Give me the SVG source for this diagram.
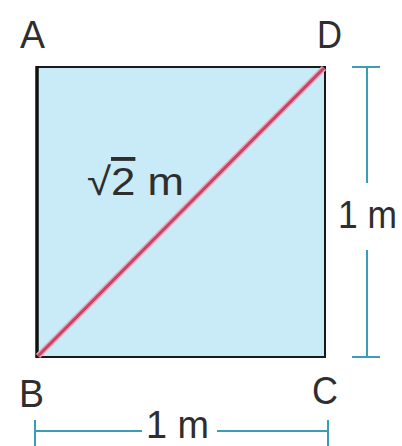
<svg xmlns="http://www.w3.org/2000/svg" width="402" height="446" viewBox="0 0 402 446">
<style>
.lbl{font-family:"Liberation Sans",Arial,sans-serif;font-size:39px;fill:#2e2e2e}
.dim{stroke:#3a9db3;stroke-width:2;fill:none}
</style>
<rect width="402" height="446" fill="#ffffff"/>
<g id="square">
<rect x="37" y="67" width="288" height="290" fill="#c8ebf7" stroke="#1a1a1a" stroke-width="2"/>
<line x1="37" y1="66" x2="37" y2="358" stroke="#111" stroke-width="3.5"/>
</g>
<g id="connectors">
<line x1="38" y1="356" x2="324" y2="68" stroke="#f0a3b4" stroke-width="6"/>
<line x1="38" y1="356" x2="324" y2="68" stroke="#c2456a" stroke-width="3"/>
<g id="dim-vertical">
<line class="dim" x1="367" y1="67" x2="367" y2="183"/>
<line class="dim" x1="367" y1="250" x2="367" y2="357"/>
<line class="dim" x1="352" y1="67" x2="380" y2="67"/>
<line class="dim" x1="352" y1="357" x2="380" y2="357"/>
</g>
<g id="dim-horizontal">
<line class="dim" x1="35" y1="431" x2="142" y2="431"/>
<line class="dim" x1="217" y1="431" x2="328" y2="431"/>
<line class="dim" x1="35" y1="420" x2="35" y2="446"/>
<line class="dim" x1="328" y1="420" x2="328" y2="446"/>
</g>
</g>
<g id="label-A"><text class="lbl" x="20" y="48" textLength="25" lengthAdjust="spacingAndGlyphs">A</text></g>
<g id="label-D"><text class="lbl" x="317" y="48" textLength="25" lengthAdjust="spacingAndGlyphs">D</text></g>
<g id="label-B"><text class="lbl" x="19" y="407" textLength="25" lengthAdjust="spacingAndGlyphs">B</text></g>
<g id="label-C"><text class="lbl" x="312" y="404" textLength="26" lengthAdjust="spacingAndGlyphs">C</text></g>
<g id="label-diag"><text class="lbl" x="87" y="195" textLength="97" lengthAdjust="spacingAndGlyphs">√<tspan text-decoration="overline">2</tspan> m</text></g>
<g id="label-right"><text class="lbl" x="338" y="228" textLength="59" lengthAdjust="spacingAndGlyphs">1 m</text></g>
<g id="label-bottom"><text class="lbl" x="146" y="438" textLength="63" lengthAdjust="spacingAndGlyphs">1 m</text></g>
</svg>
